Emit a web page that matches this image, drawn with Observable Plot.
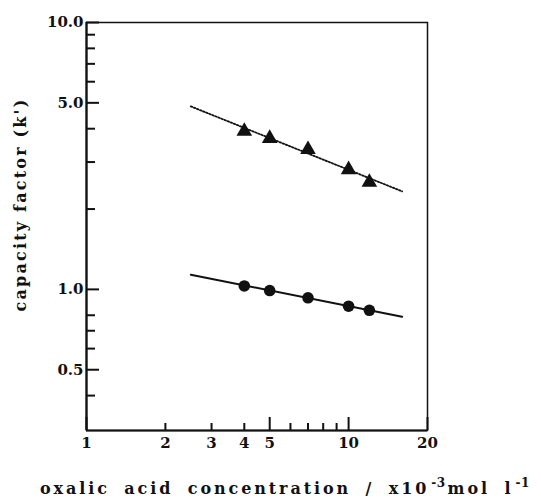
<!DOCTYPE html>
<html>
<head>
<meta charset="utf-8">
<script src="https://cdn.jsdelivr.net/npm/d3@7"></script>
<script src="https://cdn.jsdelivr.net/npm/@observablehq/plot@0.6"></script>
<style>
  html, body { margin: 0; padding: 0; background: #fff; }
  #wrap { position: relative; width: 541px; height: 498px; overflow: hidden; }
  #xlabel {
    position: absolute; left: 40px; top: 481px; white-space: nowrap; line-height: 16px;
    font-family: "DejaVu Serif", serif; font-weight: bold; font-size: 16px;
    letter-spacing: 2.9px; word-spacing: 6px; color: #111;
  }
  #xlabel sup { font-size: 12px; position: relative; top: -7px; vertical-align: baseline; letter-spacing: 0.5px; margin-left: 2px; margin-right: 2px; }
</style>
</head>
<body>
<div id="wrap"></div>
<script>
// Data
const conc = [4, 5, 7, 10, 12];                       // oxalic acid concentration (x10^-3 mol/l)
const kTriangle = [3.91, 3.68, 3.34, 2.81, 2.52];     // capacity factor, triangle series
const kCircle = [1.03, 0.99, 0.93, 0.865, 0.835];     // capacity factor, circle series
const fitConc = [2.5, 16];                             // regression line ends
const fitTriangle = [4.85, 2.33];
const fitCircle = [1.135, 0.79];

const xMajor = [1, 5, 10, 20];
const xMinor = [2, 3, 4, 6, 7, 8, 9];
const xLabels = [1, 2, 3, 4, 5, 10, 20];
const yMajor = [0.5, 1, 5, 10];
const yMinor = [0.4, 0.6, 0.7, 0.8, 2, 3, 4, 6, 7, 8, 9];
const yLabels = ["0.5", "1.0", "5.0", "10.0"];
const yTitle = "capacity factor (k')";

const tri = conc.map((c, i) => ({c, k: kTriangle[i]}));
const cir = conc.map((c, i) => ({c, k: kCircle[i]}));
const fitT = fitConc.map((c, i) => ({c, k: fitTriangle[i]}));
const fitC = fitConc.map((c, i) => ({c, k: fitCircle[i]}));

const chart = Plot.plot({
  width: 541,
  height: 460,
  marginLeft: 86,
  marginRight: 114,
  marginTop: 22,
  marginBottom: 30,
  style: {fontFamily: "DejaVu Serif, serif", fontSize: "15px", fontWeight: "bold", color: "#111", background: "#fff"},
  x: {type: "log", domain: [1, 20]},
  y: {type: "log", domain: [0.296, 10]},
  marks: [
    Plot.frame({stroke: "#111", strokeWidth: 1.5}),
    Plot.ruleX([1], {stroke: "#111", strokeWidth: 2.2}),
    Plot.ruleY([0.296], {stroke: "#111", strokeWidth: 2.2}),
    // y ticks (inward)
    Plot.axisY({ticks: yMajor, tickSize: -13, strokeWidth: 2, text: null, label: null}),
    Plot.axisY({ticks: yMinor, tickSize: -9, strokeWidth: 2, text: null, label: null}),
    Plot.axisY({ticks: yMajor, tickSize: 0, tickPadding: 3, tickFormat: d => yLabels[yMajor.indexOf(d)], label: null, fontSize: 15}),
    // x ticks (inward)
    Plot.axisX({ticks: xMajor, tickSize: -13, strokeWidth: 2, text: null, label: null}),
    Plot.axisX({ticks: xMinor, tickSize: -7, strokeWidth: 2, text: null, label: null}),
    Plot.axisX({ticks: xLabels, tickSize: 0, tickPadding: 7, tickFormat: d => String(d), label: null, fontSize: 15}),
    // y axis title
    Plot.text([yTitle], {frameAnchor: "left", textAnchor: "middle", rotate: -90, dx: -66, dy: -22, fontSize: 16, fill: "#111"}),
    // fitted lines
    Plot.line(fitT, {x: "c", y: "k", stroke: "#111", strokeWidth: 1.8, strokeDasharray: "1.5,1.8"}),
    Plot.line(fitC, {x: "c", y: "k", stroke: "#111", strokeWidth: 2}),
    // points
    Plot.dot(tri, {x: "c", y: "k", symbol: "triangle", r: 5.8, fill: "#111", stroke: "none"}),
    Plot.dot(cir, {x: "c", y: "k", symbol: "circle", r: 5.8, fill: "#111", stroke: "none"})
  ]
});

d3.select(chart).selectAll("text")
  .filter(function() { return this.textContent === yTitle; })
  .style("letter-spacing", "2.2px");

const wrap = document.getElementById("wrap");
wrap.appendChild(chart);
const xl = document.createElement("div");
xl.id = "xlabel";
xl.innerHTML = "oxalic acid concentration / x10<sup>-3</sup>mol l<sup>-1</sup>";
wrap.appendChild(xl);
</script>
</body>
</html>
